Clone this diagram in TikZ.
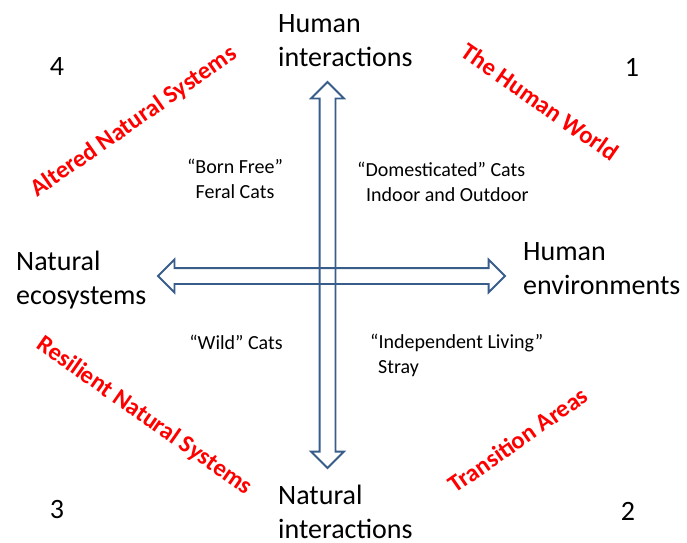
\documentclass[tikz,border=0pt]{standalone}
\usepackage{fontspec}
\setmainfont{Carlito}
\usepackage{tikz}
\usetikzlibrary{positioning,shapes.arrows}
\definecolor{axisblue}{RGB}{56,93,138}
\definecolor{zonered}{RGB}{255,0,0}

\begin{document}
\begin{tikzpicture}[
  x=1pt,y=-1pt,
  every node/.style={scale=1.0},
  axis/.style={double arrow,draw=axisblue,line width=1.8pt,inner xsep=0pt,inner ysep=7pt,double arrow head extend=8.5pt,minimum height=#1},
  big/.style={font=\fontsize{28}{34}\selectfont,align=left,inner sep=0pt,anchor=west},
  small/.style={font=\fontsize{20}{25}\selectfont,align=center,inner sep=0pt},
  zone/.style={font=\fontsize{24.5}{28}\selectfont\bfseries,text=zonered,inner sep=0pt,rotate=#1},
  num/.style={font=\fontsize{28}{32}\selectfont,inner sep=0pt},
]
\useasboundingbox (0,0) rectangle (687,542);

% axes
\node (vaxis) [axis=386,rotate=90] at (327.5,275) {};
\node (haxis) [axis=347] at (331.5,276) {};

% axis ends
\node (human) [big] at (278,41) {Human\\interactions};
\node (natural) [big] at (278,512) {Natural\\interactions};
\node (eco) [big] at (16,280) {Natural\\ecosystems};
\node (env) [big] at (523,269) {Human\\environments};

% cats
\node (born) [small] at (235,179) {“Born Free”\\Feral Cats};
\node (dom) [small,align=left,anchor=west] at (357,182) {“Domesticated” Cats\\\hspace*{9pt}Indoor and Outdoor};
\node (wild) [small] at (236,342) {“Wild” Cats};
\node (indep) [small,align=left,anchor=west] at (370,355) {“Independent Living”\\\hspace*{8pt}Stray};

% zones
\node (altered) [zone=35] at (134,122) {Altered Natural Systems};
\node (world) [zone=-35] at (540,102) {The Human World};
\node (resil) [zone=-35] at (144,416) {Resilient Natural Systems};
\node (trans) [zone=35] at (518,440) {Transition Areas};

% quadrants
\node (q4) [num] at (57,67) {4};
\node (q1) [num] at (632,67) {1};
\node (q3) [num] at (57,509) {3};
\node (q2) [num] at (628,511) {2};
\end{tikzpicture}
\end{document}
